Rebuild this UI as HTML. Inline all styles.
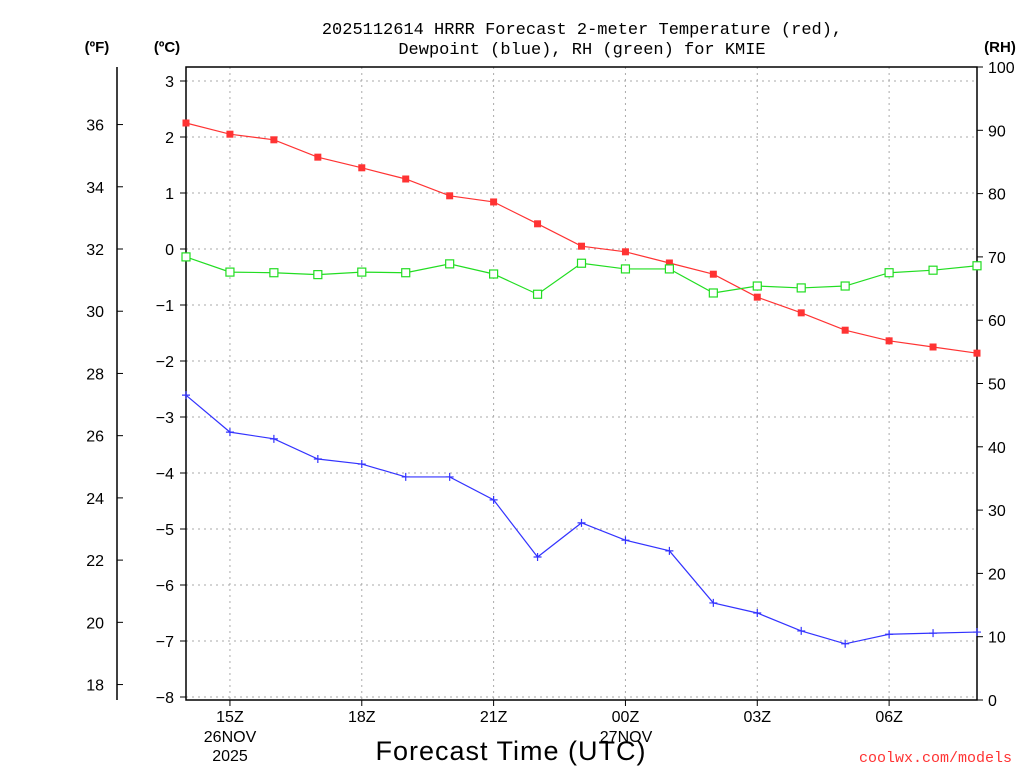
<!DOCTYPE html>
<html><head><meta charset="utf-8"><style>
body{margin:0;background:#fff;}
svg{display:block;font-family:"Liberation Sans",sans-serif;}
</style></head><body>
<svg id="c" width="1024" height="768">
<text x="582" y="34" text-anchor="middle" font-family="Liberation Mono, monospace" font-size="17">2025112614 HRRR Forecast 2-meter Temperature (red),</text>
<text x="582" y="54" text-anchor="middle" font-family="Liberation Mono, monospace" font-size="17">Dewpoint (blue), RH (green) for KMIE</text>
<text x="97" y="52" text-anchor="middle" font-size="15" font-weight="bold">(ºF)</text>
<text x="167" y="52" text-anchor="middle" font-size="15" font-weight="bold">(ºC)</text>
<text x="1000" y="52" text-anchor="middle" font-size="15" font-weight="bold">(RH)</text>
<g id="grid"></g><g id="axes"></g><g id="series"></g>
<text x="511" y="760" text-anchor="middle" font-size="27" letter-spacing="1">Forecast Time (UTC)</text>
<text x="1012" y="762" text-anchor="end" font-family="Liberation Mono, monospace" font-size="15" fill="#f33">coolwx.com/models</text>
</svg>
<script>
const hours=[14,15,16,17,18,19,20,21,22,23,0,1,2,3,4,5,6,7,8];
const tempC=[2.25,2.05,1.95,1.64,1.45,1.25,0.95,0.84,0.45,0.05,-0.05,-0.25,-0.45,-0.86,-1.14,-1.45,-1.64,-1.75,-1.86];
const dewC=[-2.61,-3.27,-3.39,-3.75,-3.84,-4.07,-4.07,-4.48,-5.5,-4.89,-5.2,-5.39,-6.32,-6.5,-6.82,-7.05,-6.88,-6.86,-6.84];
const rh=[70.0,67.6,67.5,67.2,67.6,67.5,68.9,67.3,64.1,69.0,68.1,68.1,64.3,65.4,65.1,65.4,67.5,67.9,68.6];
const cTicks=[3,2,1,0,-1,-2,-3,-4,-5,-6,-7,-8];
const fTicks=[36,34,32,30,28,26,24,22,20,18];
const rhTicks=[0,10,20,30,40,50,60,70,80,90,100];
const xTickIdx=[1,4,7,10,13,16];
const xTickLabels=["15Z","18Z","21Z","00Z","03Z","06Z"];
const X0=186,X1=977,Y0=67,Y1=700;
const xs=i=>X0+i*(X1-X0)/(hours.length-1);
const yC=c=>249-c*56;
const yF=f=>yC((f-32)*5/9);
const yR=r=>Y1-r*(Y1-Y0)/100;
const NS="http://www.w3.org/2000/svg";
function mk(p,t,a){const e=document.createElementNS(NS,t);for(const k in a)e.setAttribute(k,a[k]);document.getElementById(p).appendChild(e);return e;}
// grid
cTicks.forEach(c=>{const e=mk('grid','line',{x1:X0,x2:X1,y1:yC(c),y2:yC(c),stroke:'#aaa','stroke-dasharray':'2,4'});

});
xTickIdx.forEach(i=>{const e=mk('grid','line',{x1:xs(i),x2:xs(i),y1:Y0,y2:Y1,stroke:'#aaa','stroke-dasharray':'2,4'});

});
// frame
let f=mk('axes','rect',{x:X0,y:Y0,width:X1-X0,height:Y1-Y0,fill:'none',stroke:'#000','stroke-width':1.5});


let fl=mk('axes','line',{x1:117,x2:117,y1:Y0,y2:Y1,stroke:'#000','stroke-width':1.5});


cTicks.forEach(c=>{mk('axes','line',{x1:X0-6,x2:X0,y1:yC(c),y2:yC(c),stroke:'#000'});
const t=mk('axes','text',{x:X0-12,y:yC(c)+6,'text-anchor':'end','font-size':16});t.textContent=(c<0?'−':'')+Math.abs(c);

});
fTicks.forEach(v=>{mk('axes','line',{x1:117,x2:123,y1:yF(v),y2:yF(v),stroke:'#000'});
const t=mk('axes','text',{x:104,y:yF(v)+6,'text-anchor':'end','font-size':16});t.textContent=v;

});
rhTicks.forEach(v=>{mk('axes','line',{x1:X1,x2:X1+6,y1:yR(v),y2:yR(v),stroke:'#000'});
const t=mk('axes','text',{x:988,y:yR(v)+6,'font-size':16});t.textContent=v;

});
xTickIdx.forEach((i,k)=>{mk('axes','line',{x1:xs(i),x2:xs(i),y1:Y1,y2:Y1+6,stroke:'#000'});
const t=mk('axes','text',{x:xs(i),y:722,'text-anchor':'middle','font-size':16});t.textContent=xTickLabels[k];

});
[["26NOV",230,742],["2025",230,761],["27NOV",626,742]].forEach(d=>{const t=mk('axes','text',{x:d[1],y:d[2],'text-anchor':'middle','font-size':16});t.textContent=d[0];

});
// series
function line(vals,yf,col,name){const p=mk('series','polyline',{points:vals.map((v,i)=>xs(i)+','+yf(v)).join(' '),fill:'none',stroke:col,'stroke-width':1.2});

}
line(tempC,yC,'#f33','temperature');
line(dewC,yC,'#33f','dewpoint');
line(rh,yR,'#2d2','rh');
tempC.forEach((v,i)=>{const m=mk('series','rect',{x:xs(i)-3.5,y:yC(v)-3.5,width:7,height:7,fill:'#f33'});

});
rh.forEach((v,i)=>{const m=mk('series','rect',{x:xs(i)-4,y:yR(v)-4,width:8,height:8,fill:'#fff',stroke:'#2d2','stroke-width':1.2});

});
dewC.forEach((v,i)=>{const m=mk('series','path',{d:`M${xs(i)-4},${yC(v)}h8M${xs(i)},${yC(v)-4}v8`,stroke:'#33f','stroke-width':1.2});

});
</script>
</body></html>
